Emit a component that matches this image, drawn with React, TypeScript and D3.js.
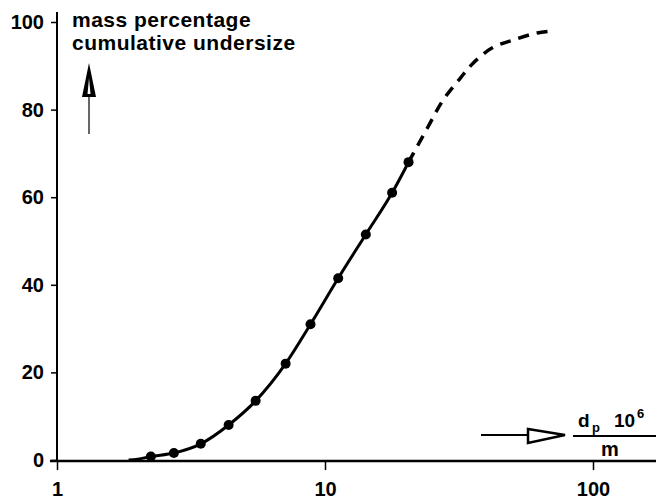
import React, { useEffect, useRef } from "react";
import * as d3 from "d3";

// measured points (particle size in µm, cumulative undersize in %)
const sizes = [2.24, 2.73, 3.44, 4.37, 5.51, 7.13, 8.83, 11.2, 14.2, 17.8, 20.5];
const undersize = [0.8, 1.6, 3.7, 8.0, 13.5, 22.0, 31.0, 41.5, 51.5, 61.0, 68.0];

// start of the solid curve along the axis
const startSizes = [1.85, 2.0];
const startValues = [0, 0.2];

// extrapolated (dashed) part of the curve
const dashSizes = [20.5, 24.1, 27.6, 32.0, 35.7, 42.1, 50.4, 61.9, 72.2];
const dashValues = [68.0, 75.8, 82.2, 87.2, 90.6, 94.1, 95.9, 97.5, 98.0];

const yTicks = [0, 20, 40, 60, 80, 100];
const xTicks = [1, 10, 100];

const W = 656;
const H = 499;
const FONT = "'Liberation Sans', Arial, Helvetica, sans-serif";

export default function App() {
  const svgRef = useRef<SVGSVGElement>(null);

  useEffect(() => {
    const svg = d3.select(svgRef.current);
    svg.selectAll("*").remove();

    const x = d3.scaleLog().domain([1, 100]).range([57, 593]);
    const y = d3.scaleLinear().domain([0, 100]).range([460, 22]);

    // axes lines
    svg.append("line")
      .attr("x1", 57).attr("x2", 57).attr("y1", 12).attr("y2", 461)
      .attr("stroke", "#000").attr("stroke-width", 2);
    svg.append("line")
      .attr("x1", 50).attr("x2", W).attr("y1", 461).attr("y2", 461)
      .attr("stroke", "#000").attr("stroke-width", 2.5);

    const yAxis = svg.append("g")
      .attr("transform", "translate(57,0)")
      .call(d3.axisLeft(y).tickValues(yTicks).tickSize(6).tickPadding(7).tickSizeOuter(0));
    yAxis.select(".domain").remove();
    yAxis.selectAll("line").attr("stroke-width", 1.5);
    yAxis.selectAll("text")
      .attr("font-size", 20).attr("font-weight", "bold").attr("font-family", FONT).attr("fill", "#000");

    const xAxis = svg.append("g")
      .attr("transform", "translate(0,461)")
      .call(d3.axisBottom(x).tickValues(xTicks).tickFormat(d3.format("d")).tickSize(9).tickPadding(12).tickSizeOuter(0));
    xAxis.select(".domain").remove();
    xAxis.selectAll("line").attr("stroke-width", 1.5);
    xAxis.selectAll("text")
      .attr("font-size", 20).attr("font-weight", "bold").attr("font-family", FONT).attr("fill", "#000");

    const line = d3.line<[number, number]>()
      .x((d) => x(d[0]))
      .y((d) => y(d[1]))
      .curve(d3.curveMonotoneX);

    const solid: [number, number][] = [
      ...startSizes.map((s, i) => [s, startValues[i]] as [number, number]),
      ...sizes.map((s, i) => [s, undersize[i]] as [number, number]),
    ];
    const dashed: [number, number][] = dashSizes.map((s, i) => [s, dashValues[i]]);

    svg.append("path")
      .attr("d", line(solid))
      .attr("fill", "none").attr("stroke", "#000").attr("stroke-width", 3);
    svg.append("path")
      .attr("d", line.curve(d3.curveCatmullRom.alpha(0.5))(dashed))
      .attr("fill", "none").attr("stroke", "#000").attr("stroke-width", 3.5)
      .attr("stroke-dasharray", "11,8");

    svg.selectAll("circle.pt")
      .data(sizes)
      .enter()
      .append("circle")
      .attr("class", "pt")
      .attr("cx", (d) => x(d))
      .attr("cy", (d, i) => y(undersize[i]))
      .attr("r", 5)
      .attr("fill", "#000");

    // y label
    const yl = svg.append("g")
      .attr("font-family", FONT).attr("font-weight", "bold").attr("font-size", 21)
      .attr("letter-spacing", 0.5);
    yl.append("text").attr("x", 72).attr("y", 27).text("mass percentage");
    yl.append("text").attr("x", 72).attr("y", 50).text("cumulative undersize");

    // up arrow
    svg.append("line")
      .attr("x1", 89).attr("x2", 89).attr("y1", 96).attr("y2", 134)
      .attr("stroke", "#000").attr("stroke-width", 1.2);
    svg.append("path")
      .attr("d", "M89,63 L96,97 L82,97 Z")
      .attr("fill", "#000");
    svg.append("path")
      .attr("d", "M89,78 L90.5,94 L87.5,94 Z")
      .attr("fill", "#fff");

    // right arrow
    svg.append("line")
      .attr("x1", 481).attr("x2", 530).attr("y1", 435).attr("y2", 435)
      .attr("stroke", "#000").attr("stroke-width", 2);
    svg.append("path")
      .attr("d", "M528,429 L565,435 L528,443 Z")
      .attr("fill", "#fff").attr("stroke", "#000").attr("stroke-width", 2.5)
      .attr("stroke-linejoin", "miter");

    // x unit label
    svg.append("line")
      .attr("x1", 573).attr("x2", W).attr("y1", 436).attr("y2", 436)
      .attr("stroke", "#000").attr("stroke-width", 2);
    const xl = svg.append("g")
      .attr("font-family", FONT).attr("font-weight", "bold").attr("fill", "#000");
    xl.append("text").attr("x", 578).attr("y", 427).attr("font-size", 19).text("d");
    xl.append("text").attr("x", 592).attr("y", 432).attr("font-size", 13).text("p");
    xl.append("text").attr("x", 614).attr("y", 427).attr("font-size", 19).text("10");
    xl.append("text").attr("x", 637).attr("y", 418).attr("font-size", 13).text("6");
    xl.append("text").attr("x", 610).attr("y", 456).attr("font-size", 20).attr("text-anchor", "middle").text("m");
  }, []);

  return (
    <svg
      ref={svgRef}
      width={W}
      height={H}
      style={{ position: "absolute", left: 0, top: 0, background: "#fff" }}
    />
  );
}
